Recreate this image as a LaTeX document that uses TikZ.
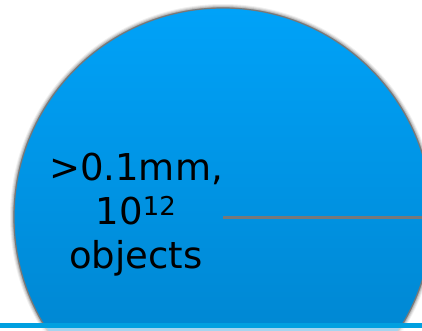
\documentclass[tikz,border=0pt]{standalone}
\usepackage{fontspec}
\setmainfont{DejaVu Sans}
\definecolor{circtop}{RGB}{0,162,248}
\definecolor{circbot}{RGB}{0,128,200}
\definecolor{edgegray}{RGB}{120,120,120}
\definecolor{barblue}{RGB}{0,160,224}
\tikzset{
  bubble/.style={draw=edgegray, line width=1.2pt, top color=circtop, bottom color=circbot},
  radius line/.style={draw=edgegray, line width=3pt},
  label text/.style={font=\fontsize{37}{44}\selectfont, align=center, inner sep=0pt, text=black},
}
\begin{document}
\begin{tikzpicture}[x=1pt,y=-1pt]
\useasboundingbox (0,0) rectangle (422,331);
\coordinate (C) at (223,217);
\coordinate (E) at (422,217);
\begin{scope}
  \clip (0,0) rectangle (422,331);
  \foreach \r/\o in {213/0.06,212/0.09,211/0.12,210/0.16}{
    \fill[black, opacity=\o] (C) circle[radius=\r];
  }
  \shade[bubble] (C) circle[radius=209];
  \fill[white, opacity=0.65] (0,327.7) rectangle (422,331);
\end{scope}
\draw[radius line] (C) -- (E);
\fill[barblue] (0,322.7) rectangle (422,327.7);
\node[label text, anchor=north] (lbl) at (136,152.5) {>0.1mm,\\10\textsuperscript{12}\\objects};
\end{tikzpicture}
\end{document}
